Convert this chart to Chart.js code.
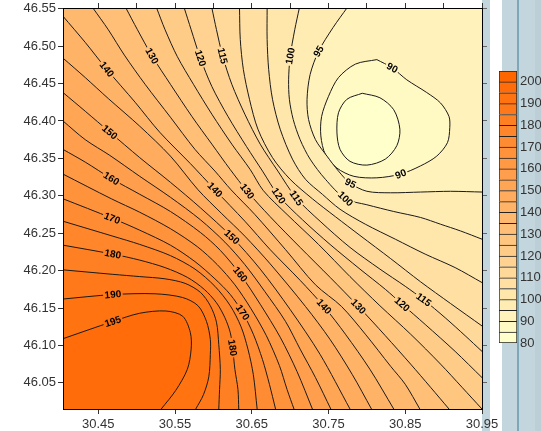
<!DOCTYPE html>
<html lang="en">
<head>
<meta charset="UTF-8">
<script src="https://cdn.jsdelivr.net/npm/chart.js@4"></script>
<title>Contours</title>
<style>
  body { margin: 0; background: #fff; }
  #wrap { position: relative; width: 541px; height: 431px; overflow: hidden; background: #fff; }
  .frame { position: absolute; top: 0; height: 431px; }
  canvas { position: absolute; left: 0; top: 0; }
</style>
</head>
<body>
<div id="wrap">
  <div class="frame" style="left:482px;width:8px;background:#c4d6dd"></div>
  <div class="frame" style="left:502px;width:39px;background:#c4d6dd"></div>
  <div class="frame" style="left:535px;width:6px;background:#bccfd7"></div>
  <div class="frame" style="left:517px;width:2px;background:#7ea7b7"></div>
  <canvas id="map" width="541" height="431"></canvas>
  <canvas id="scale" width="541" height="431"></canvas>
</div>
<script>
// axis limits and ticks
const X_MIN = 30.404, X_MAX = 30.95, Y_MIN = 46.015, Y_MAX = 46.551;
const xTicksBottom = [30.45, 30.55, 30.65, 30.75, 30.85, 30.95];
const xTicksTop = [30.45, 30.5, 30.55, 30.6, 30.65, 30.7, 30.75, 30.8, 30.85, 30.9, 30.95];
const yTicks = [46.05, 46.1, 46.15, 46.2, 46.25, 46.3, 46.35, 46.4, 46.45, 46.5, 46.55];

// colour bar
const bandStart = [80, 85, 90, 95, 100, 105, 110, 115, 120, 125, 130, 135, 140, 145, 150, 155, 160, 165, 170, 175, 180, 185, 190, 195, 200];
const cbTicks = [80, 90, 100, 110, 120, 130, 140, 150, 160, 170, 180, 190, 200];

// contour lines [lon, lat]
const c85 = [[30.794,46.437],[30.817,46.431],[30.835,46.415],[30.843,46.389],[30.839,46.367],[30.824,46.349],[30.800,46.341],[30.778,46.346],[30.765,46.362],[30.761,46.384],[30.763,46.411],[30.774,46.429]];
const c90 = [[30.813,46.482],[30.833,46.471],[30.852,46.455],[30.878,46.438],[30.896,46.424],[30.907,46.406],[30.908,46.391],[30.905,46.371],[30.891,46.353],[30.870,46.340],[30.844,46.329],[30.813,46.324],[30.783,46.326],[30.761,46.337],[30.746,46.355],[30.740,46.380],[30.741,46.406],[30.750,46.433],[30.763,46.458],[30.785,46.476]];
const c95 = [[30.774,46.551],[30.756,46.525],[30.737,46.493],[30.726,46.462],[30.722,46.429],[30.724,46.402],[30.733,46.375],[30.748,46.353],[30.763,46.333],[30.778,46.317],[30.800,46.306],[30.831,46.304],[30.870,46.305],[30.909,46.306],[30.95,46.305]];
const c100 = [[30.712,46.551],[30.706,46.522],[30.700,46.486],[30.698,46.455],[30.699,46.429],[30.704,46.402],[30.713,46.375],[30.726,46.349],[30.746,46.322],[30.772,46.296],[30.800,46.288],[30.835,46.279],[30.870,46.271],[30.896,46.262],[30.922,46.253],[30.95,46.242]];
const c105 = [[30.670,46.551],[30.670,46.509],[30.672,46.469],[30.677,46.429],[30.687,46.389],[30.703,46.349],[30.720,46.322],[30.742,46.302],[30.765,46.282],[30.798,46.262],[30.837,46.242],[30.876,46.222],[30.915,46.204],[30.95,46.184]];
const c110 = [[30.634,46.551],[30.635,46.509],[30.639,46.469],[30.647,46.429],[30.658,46.389],[30.677,46.351],[30.700,46.322],[30.729,46.296],[30.759,46.272],[30.791,46.247],[30.831,46.216],[30.870,46.185],[30.909,46.156],[30.95,46.126]];
const c115 = [[30.598,46.551],[30.604,46.522],[30.612,46.487],[30.624,46.449],[30.641,46.409],[30.661,46.369],[30.684,46.333],[30.708,46.297],[30.739,46.266],[30.778,46.231],[30.817,46.202],[30.850,46.179],[30.874,46.161],[30.902,46.137],[30.928,46.113],[30.95,46.092]];
const c120 = [[30.562,46.551],[30.571,46.522],[30.583,46.484],[30.598,46.446],[30.619,46.406],[30.643,46.366],[30.664,46.333],[30.685,46.300],[30.716,46.268],[30.752,46.235],[30.791,46.202],[30.824,46.175],[30.846,46.155],[30.876,46.128],[30.915,46.092],[30.95,46.057]];
const c125 = [[30.526,46.551],[30.537,46.522],[30.553,46.486],[30.574,46.449],[30.598,46.409],[30.624,46.369],[30.648,46.335],[30.665,46.307],[30.696,46.275],[30.737,46.235],[30.778,46.192],[30.817,46.153],[30.857,46.115],[30.896,46.075],[30.924,46.044],[30.95,46.015]];
const c130 = [[30.486,46.551],[30.501,46.522],[30.520,46.487],[30.544,46.449],[30.572,46.406],[30.598,46.369],[30.622,46.335],[30.644,46.306],[30.674,46.272],[30.713,46.231],[30.752,46.191],[30.789,46.152],[30.824,46.113],[30.857,46.075],[30.883,46.044],[30.907,46.015]];
const c135 = [[30.443,46.551],[30.463,46.522],[30.484,46.488],[30.511,46.449],[30.544,46.405],[30.576,46.362],[30.602,46.333],[30.623,46.308],[30.654,46.275],[30.694,46.228],[30.733,46.181],[30.767,46.152],[30.798,46.115],[30.831,46.072],[30.850,46.048],[30.869,46.015]];
const c140 = [[30.404,46.540],[30.433,46.505],[30.461,46.469],[30.498,46.425],[30.530,46.385],[30.570,46.343],[30.602,46.308],[30.641,46.266],[30.674,46.228],[30.713,46.187],[30.744,46.152],[30.772,46.115],[30.804,46.068],[30.835,46.015]];
const c145 = [[30.404,46.484],[30.433,46.458],[30.463,46.430],[30.504,46.393],[30.544,46.353],[30.580,46.308],[30.611,46.276],[30.641,46.246],[30.674,46.209],[30.720,46.152],[30.752,46.108],[30.781,46.061],[30.806,46.015]];
const c150 = [[30.404,46.438],[30.433,46.413],[30.465,46.385],[30.504,46.351],[30.544,46.318],[30.583,46.284],[30.624,46.245],[30.661,46.202],[30.700,46.148],[30.739,46.088],[30.778,46.015]];
const c155 = [[30.404,46.400],[30.433,46.375],[30.465,46.354],[30.504,46.326],[30.544,46.298],[30.583,46.268],[30.615,46.238],[30.641,46.208],[30.667,46.172],[30.694,46.132],[30.713,46.095],[30.733,46.057],[30.753,46.015]];
const c160 = [[30.404,46.362],[30.433,46.345],[30.467,46.323],[30.504,46.302],[30.544,46.279],[30.583,46.251],[30.609,46.227],[30.635,46.195],[30.661,46.155],[30.687,46.111],[30.709,46.065],[30.729,46.015]];
const c165 = [[30.404,46.329],[30.467,46.296],[30.504,46.278],[30.544,46.256],[30.579,46.232],[30.605,46.208],[30.628,46.181],[30.649,46.149],[30.669,46.113],[30.686,46.073],[30.696,46.041],[30.705,46.015]];
const c170 = [[30.404,46.296],[30.468,46.270],[30.504,46.254],[30.544,46.234],[30.576,46.212],[30.602,46.189],[30.622,46.168],[30.638,46.144],[30.652,46.115],[30.664,46.081],[30.673,46.048],[30.681,46.015]];
const c175 = [[30.404,46.266],[30.469,46.246],[30.504,46.235],[30.544,46.220],[30.576,46.202],[30.602,46.179],[30.622,46.153],[30.636,46.125],[30.645,46.095],[30.652,46.061],[30.657,46.015]];
const c180 = [[30.404,46.234],[30.469,46.222],[30.504,46.214],[30.537,46.204],[30.566,46.191],[30.588,46.175],[30.604,46.157],[30.615,46.137],[30.622,46.117],[30.625,46.097],[30.628,46.068],[30.632,46.041],[30.633,46.015]];
const c185 = [[30.404,46.201],[30.469,46.195],[30.504,46.192],[30.537,46.189],[30.563,46.183],[30.583,46.171],[30.596,46.153],[30.604,46.131],[30.607,46.101],[30.609,46.068],[30.608,46.041],[30.607,46.015]];
const c190 = [[30.404,46.162],[30.469,46.168],[30.524,46.169],[30.560,46.164],[30.580,46.153],[30.591,46.132],[30.596,46.108],[30.596,46.088],[30.594,46.058],[30.587,46.034],[30.577,46.015]];
const c195 = [[30.404,46.109],[30.469,46.132],[30.504,46.143],[30.538,46.146],[30.560,46.139],[30.570,46.117],[30.571,46.095],[30.566,46.068],[30.551,46.040],[30.532,46.015]];

const openLevels = [95, 100, 105, 110, 115, 120, 125, 130, 135, 140, 145, 150, 155, 160, 165, 170, 175, 180, 185, 190, 195];
const contours = {85: c85, 90: c90, 95: c95, 100: c100, 105: c105, 110: c110, 115: c115, 120: c120, 125: c125, 130: c130,
  135: c135, 140: c140, 145: c145, 150: c150, 155: c155, 160: c160, 165: c165, 170: c170, 175: c175, 180: c180,
  185: c185, 190: c190, 195: c195};

// contour labels
const labelText = ['140','130','120','115','100','95','90','90','95','100','150','160','170','180','190','195','140','130','120','115','150','160','170','180','140','130','120','115'];
const labelX = [30.461,30.520,30.583,30.612,30.700,30.737,30.833,30.844,30.778,30.772,30.465,30.467,30.468,30.469,30.469,30.469,30.602,30.644,30.685,30.708,30.624,30.635,30.638,30.625,30.744,30.789,30.846,30.874];
const labelY = [46.469,46.487,46.484,46.487,46.487,46.493,46.471,46.329,46.316,46.296,46.385,46.323,46.270,46.222,46.168,46.132,46.308,46.306,46.300,46.297,46.245,46.195,46.144,46.097,46.152,46.152,46.155,46.161];

Chart.defaults.font.family = '"Liberation Sans", Arial, Helvetica, sans-serif';
Chart.defaults.font.size = 13;
Chart.defaults.color = '#333';

function bandColor(i) {
  const t = i / 24;
  return 'rgb(255,' + Math.round(255 - 153 * t) + ',' + Math.round(204 - 204 * t) + ')';
}

const pts = arr => arr.map(p => ({x: p[0], y: p[1]}));
const closeLoop = arr => pts(arr.concat([arr[0]]));
const near = (a, b) => Math.abs(a - b) < 0.002;
const PAD = 0.5;

// area above a level: the contour plus corners far outside the plot (clipped away)
function regionAbove(arr) {
  const p = pts(arr);
  const a = p[0], a2 = p[1], z = p[p.length - 1], z2 = p[p.length - 2];
  const out = [{x: 2 * a.x - a2.x, y: 2 * a.y - a2.y}].concat(p);
  out.push({x: 2 * z.x - z2.x, y: 2 * z.y - z2.y});
  if (near(z.x, X_MAX) && !near(z.y, Y_MIN)) out.push({x: X_MAX + PAD, y: Y_MIN - PAD});
  out.push({x: X_MIN - PAD, y: Y_MIN - PAD});
  if (near(a.y, Y_MAX)) out.push({x: X_MIN - PAD, y: Y_MAX + PAD});
  return out;
}

const datasets = [
  {data: closeLoop(c90), backgroundColor: bandColor(1), borderColor: '#1a1a1a', fill: 'shape', order: 1000},
  {data: closeLoop(c85), backgroundColor: bandColor(0), borderColor: '#1a1a1a', fill: 'shape', order: 999}
];
openLevels.forEach(L => {
  datasets.push({data: regionAbove(contours[L]), backgroundColor: bandColor((L - 80) / 5), borderColor: '#1a1a1a', fill: 'shape', order: 900 - L});
});

const areaBg = {
  id: 'areaBg',
  beforeDatasetsDraw(chart) {
    const {ctx, chartArea: a} = chart;
    ctx.save();
    ctx.fillStyle = bandColor(2);
    ctx.fillRect(a.left, a.top, a.right - a.left, a.bottom - a.top);
    ctx.restore();
  }
};

const contourLabels = {
  id: 'contourLabels',
  afterDatasetsDraw(chart) {
    const {ctx, scales: {x, y}} = chart;
    ctx.save();
    ctx.font = 'bold 10px "Liberation Sans", Arial, sans-serif';
    ctx.textAlign = 'center';
    ctx.textBaseline = 'middle';
    labelText.forEach((txt, i) => {
      const lv = +txt;
      let src = contours[lv];
      if (lv <= 90) src = src.concat([src[0]]);
      const line = src.map(p => [x.getPixelForValue(p[0]), y.getPixelForValue(p[1])]);
      const px = x.getPixelForValue(labelX[i]), py = y.getPixelForValue(labelY[i]);
      let best = null;
      for (let k = 0; k < line.length - 1; k++) {
        const [ax, ay] = line[k], [bx, by] = line[k + 1];
        const dx = bx - ax, dy = by - ay;
        let t = ((px - ax) * dx + (py - ay) * dy) / (dx * dx + dy * dy);
        t = Math.max(0, Math.min(1, t));
        const qx = ax + t * dx, qy = ay + t * dy;
        const d = (qx - px) * (qx - px) + (qy - py) * (qy - py);
        if (!best || d < best.d) best = {d, qx, qy, ang: Math.atan2(dy, dx)};
      }
      let ang = best.ang;
      if (ang > Math.PI / 2) ang -= Math.PI;
      if (ang < -Math.PI / 2) ang += Math.PI;
      const w = ctx.measureText(txt).width;
      ctx.save();
      ctx.translate(best.qx, best.qy);
      ctx.rotate(ang);
      ctx.fillStyle = bandColor((lv - 80) / 5 - 0.5);
      ctx.fillRect(-w / 2 - 1.5, -4, w + 3, 8);
      ctx.fillStyle = '#000';
      ctx.fillText(txt, 0, 0.5);
      ctx.restore();
    });
    ctx.restore();
  }
};

const tickSet = list => scale => { scale.ticks = list.map(v => ({value: v})); };

new Chart(document.getElementById('map'), {
  type: 'line',
  data: {datasets: datasets},
  options: {
    responsive: false,
    animation: false,
    events: [],
    layout: {padding: 0},
    plugins: {legend: {display: false}, tooltip: {enabled: false}},
    elements: {
      point: {radius: 0},
      line: {tension: 0.3, capBezierPoints: false, borderWidth: 1}
    },
    scales: {
      x: {
        type: 'linear', position: 'bottom', min: X_MIN, max: X_MAX,
        afterBuildTicks: tickSet(xTicksBottom),
        ticks: {autoSkip: false, maxRotation: 0, padding: 3, callback: v => v.toFixed(2)},
        grid: {drawOnChartArea: false, tickLength: 5, color: '#333'},
        border: {color: '#000', z: 1},
        afterFit: s => { s.height = 22; s.paddingLeft = 0; s.paddingRight = 0; }
      },
      x2: {
        type: 'linear', position: 'top', min: X_MIN, max: X_MAX,
        afterBuildTicks: tickSet(xTicksTop),
        ticks: {display: false},
        grid: {drawOnChartArea: false, tickLength: 5, color: '#333'},
        border: {color: '#000', z: 1},
        afterFit: s => { s.height = 8; s.paddingLeft = 0; s.paddingRight = 0; }
      },
      y: {
        type: 'linear', position: 'left', min: Y_MIN, max: Y_MAX,
        afterBuildTicks: tickSet(yTicks),
        ticks: {autoSkip: false, padding: 2, callback: v => v.toFixed(2)},
        grid: {drawOnChartArea: false, tickLength: 5, color: '#333'},
        border: {color: '#000', z: 1},
        afterFit: s => { s.width = 63; s.paddingTop = 0; s.paddingBottom = 0; }
      },
      y2: {
        type: 'linear', position: 'right', min: Y_MIN, max: Y_MAX,
        afterBuildTicks: tickSet(yTicks),
        ticks: {display: false},
        grid: {drawOnChartArea: false, tickLength: 5, color: '#666'},
        border: {color: '#000', z: 1},
        afterFit: s => { s.width = 59; s.paddingTop = 0; s.paddingBottom = 0; }
      }
    }
  },
  plugins: [areaBg, contourLabels]
});

// colour bar
new Chart(document.getElementById('scale'), {
  type: 'bar',
  data: {
    labels: [''],
    datasets: bandStart.map((v, i) => ({
      data: [[v, v + 5]],
      backgroundColor: bandColor(i),
      borderColor: '#222',
      borderWidth: 1,
      borderSkipped: i === 0 ? false : 'start',
      grouped: false,
      barPercentage: 1,
      categoryPercentage: 1
    }))
  },
  options: {
    responsive: false,
    animation: false,
    events: [],
    layout: {padding: {left: 499, top: 71, bottom: 88, right: 0}},
    plugins: {legend: {display: false}, tooltip: {enabled: false}},
    scales: {
      x: {display: false},
      y: {
        position: 'right', min: 80, max: 205,
        afterBuildTicks: tickSet(cbTicks),
        grid: {display: false, drawTicks: false},
        border: {display: false},
        ticks: {padding: 3, autoSkip: false},
        afterFit: s => { s.width = 24; s.paddingTop = 0; s.paddingBottom = 0; }
      }
    }
  }
});
</script>
</body>
</html>
